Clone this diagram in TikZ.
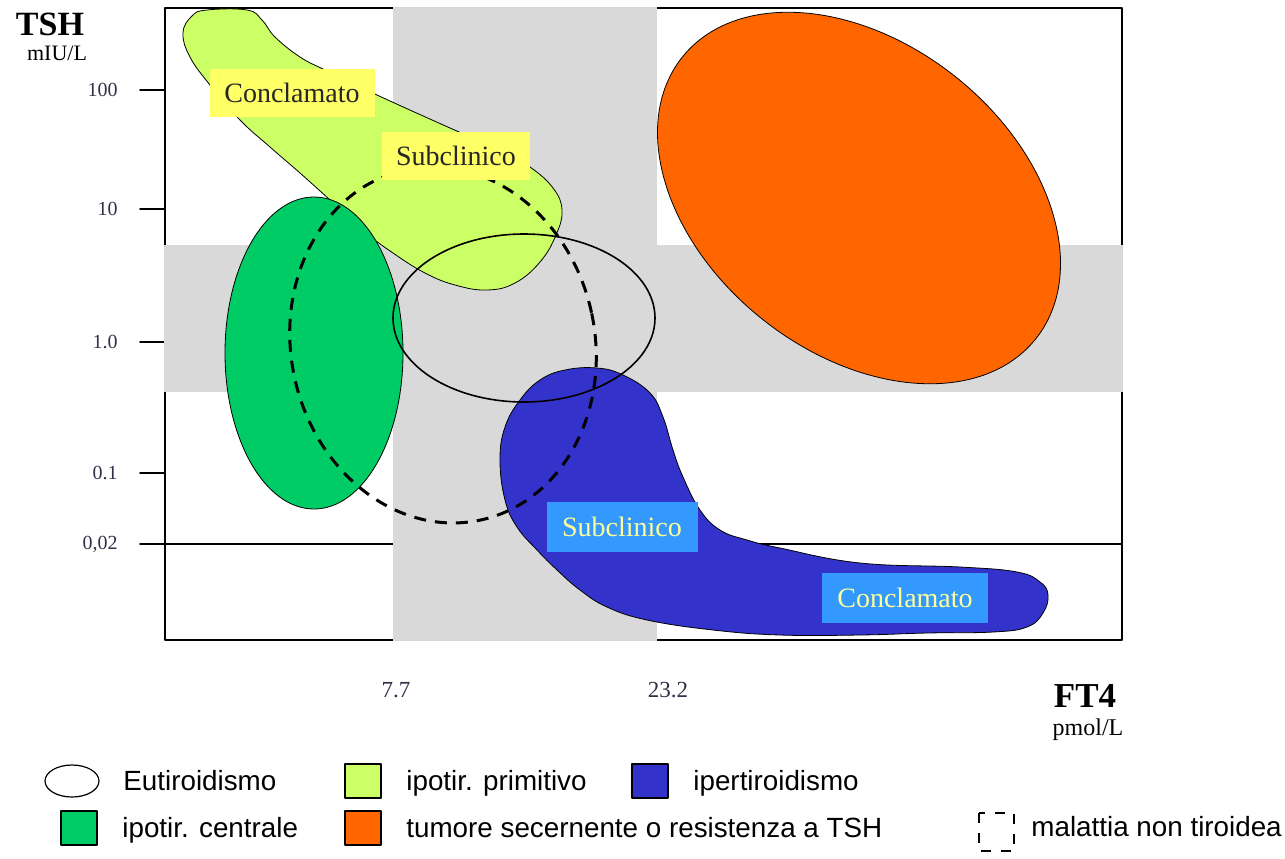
\documentclass[tikz,border=0pt]{standalone}
\usepackage{fontspec}
\setmainfont{Liberation Serif}
\newfontfamily\legendfont{Liberation Sans}
\definecolor{bandgray}{HTML}{D9D9D9}
\definecolor{primgreen}{HTML}{CCFF66}
\definecolor{centgreen}{HTML}{00CC66}
\definecolor{hyperblue}{HTML}{3333CC}
\definecolor{tumorange}{HTML}{FF6600}
\definecolor{labyellow}{HTML}{FFFF66}
\definecolor{labblue}{HTML}{3399FF}
\definecolor{labtext}{HTML}{FFFF99}
\definecolor{ticktext}{HTML}{303048}

\begin{document}
\begin{tikzpicture}[x = 0.5pt, y = -0.5pt, line cap = round, line join = round,
        region/.style = {draw = black, line width = 0.4pt},
        ylabel/.style = {fill = labyellow, text = black!85, minimum height = 24pt, inner sep = 0pt, font = \fontsize{14}{16}\selectfont},
        blabel/.style = {fill = labblue, text = labtext, minimum height = 25pt, inner sep = 0pt, font = \fontsize{14}{16}\selectfont},
        ticklabel/.style = {anchor = east, inner sep = 0pt, text = ticktext, font = \fontsize{10}{12}\selectfont},
        legentry/.style = {anchor = base west, inner sep = 0pt, font = \legendfont\fontsize{13.9}{16}\selectfont},
        legbox/.style = {draw = black, line width = 0.6pt}]
        %
        \def\Left{165}
        \def\Right{1122}
        \def\Top{8}
        \def\Bottom{640}
        \def\BandLeft{393}
        \def\BandRight{657}
        \def\BandTop{245}
        \def\BandBottom{392}

        \useasboundingbox (0, 0) rectangle (1285, 858);

        % frame, ticks and the 0,02 line
        \draw [line width = 0.8pt] (\Left, \Top) rectangle (\Right, \Bottom);
        \foreach \it/\txt in {90/100, 209/10, 342/1.0, 473/0.1, 544/{0,02}}
        {
            \draw [line width = 0.8pt] (140, \it) -- (\Left, \it);
            \node [ticklabel] (tick\it) at (118, \it) {\txt};
        }
        \draw [line width = 0.8pt] (\Left, 544) -- (\Right, 544);

        % normal ranges
        \fill [bandgray] (\BandLeft, \Top - 1) rectangle (\BandRight, \Bottom + 1);
        \fill [bandgray] (\Left - 1, \BandTop) rectangle (\Right + 1, \BandBottom);

        % axis names
        \node [inner sep = 0pt, font = \fontsize{17}{20}\selectfont\bfseries] (tsh) at (50, 24) {TSH};
        \node [inner sep = 0pt, font = \fontsize{11}{13}\selectfont] (tshunit) at (57, 53) {mIU/L};
        \node [inner sep = 0pt, font = \fontsize{17.5}{20}\selectfont\bfseries] (ft4) at (1085, 696) {FT4};
        \node [inner sep = 0pt, font = \fontsize{12}{14}\selectfont] (ft4unit) at (1088, 730) {pmol/L};
        \node [text = ticktext, font = \fontsize{11.5}{13}\selectfont] (xlow) at (396, 690) {7.7};
        \node [text = ticktext, font = \fontsize{11.5}{13}\selectfont] (xhigh) at (668, 690) {23.2};

        % ipotiroidismo primitivo
        \draw [region, fill = primgreen] plot [smooth cycle, tension = 0.7] coordinates {
            (207, 10) (247, 10) (262, 20) (275, 37) (300, 57) (325, 70) (377, 95) (450, 128)
            (500, 150) (530, 167) (553, 188) (562, 210) (556, 235) (540, 262) (515, 283)
            (487, 290) (455, 285) (425, 273) (393, 253) (365, 232) (330, 200) (300, 173)
            (270, 147) (240, 120) (210, 85) (190, 57) (183, 33) (192, 16)};
        % ipotiroidismo centrale
        \draw [region, fill = centgreen] (314, 353) ellipse [x radius = 89, y radius = 156];
        % tumore / resistenza
        \draw [region, fill = tumorange, rotate around = {-38.5:(859, 198)}] (859, 198) ellipse [x radius = 226, y radius = 155];
        % ipertiroidismo
        \draw [region, fill = hyperblue] plot [smooth cycle, tension = 0.7] coordinates {
            (597, 368) (623, 375) (650, 393) (663, 417) (673, 450) (683, 477) (700, 510)
            (720, 530) (747, 540) (780, 548) (860, 563) (960, 567) (1017, 572) (1040, 582)
            (1048, 595) (1043, 613) (1027, 627) (993, 632) (927, 633) (860, 635) (780, 635)
            (713, 630) (647, 620) (607, 607) (580, 590) (557, 570) (537, 550) (517, 527)
            (505, 500) (500, 460) (505, 427) (520, 400) (540, 380) (565, 370)};
        % eutiroidismo
        \draw [line width = 0.8pt] (524, 318) ellipse [x radius = 131, y radius = 84];
        % malattia non tiroidea
        \draw [line width = 1.5pt, dash pattern = on 6pt off 4.5pt, line cap = butt, rotate around = {12:(443, 345)}]
            (443, 345) ellipse [x radius = 152, y radius = 179];

        % labels on the regions
        \node [ylabel, minimum width = 82.5pt] (conclPrim) at (292, 93) {Conclamato};
        \node [ylabel, minimum width = 74pt] (subPrim) at (456, 156) {Subclinico};
        \node [blabel, minimum width = 75.5pt] (subHyper) at (622, 527) {Subclinico};
        \node [blabel, minimum width = 83pt] (conclHyper) at (905, 598) {Conclamato};

        % legend
        \draw [legbox] (72, 781) ellipse [x radius = 27, y radius = 16];
        \node [legentry] (legEu) at (123, 790) {Eutiroidismo};
        \foreach \x/\y/\col/\txt/\nm in {345/764/primgreen/ipotir. primitivo/legPrim, 632/764/hyperblue/ipertiroidismo/legHyper,
            61/811/centgreen/ipotir. centrale/legCent, 345/811/tumorange/tumore secernente o resistenza a TSH/legTum}
        {
            \draw [legbox, fill = \col] (\x, \y) rectangle ++(36, 34);
            \node [legentry] (\nm) at (\x + 61, \y + 26) {\txt};
        }
        \draw [line width = 1.2pt, dash pattern = on 5pt off 5pt, line cap = butt] (979, 813) rectangle (1014, 851);
        \node [legentry] (legNon) at (1031, 836) {malattia non tiroidea};
    \end{tikzpicture}
\end{document}
